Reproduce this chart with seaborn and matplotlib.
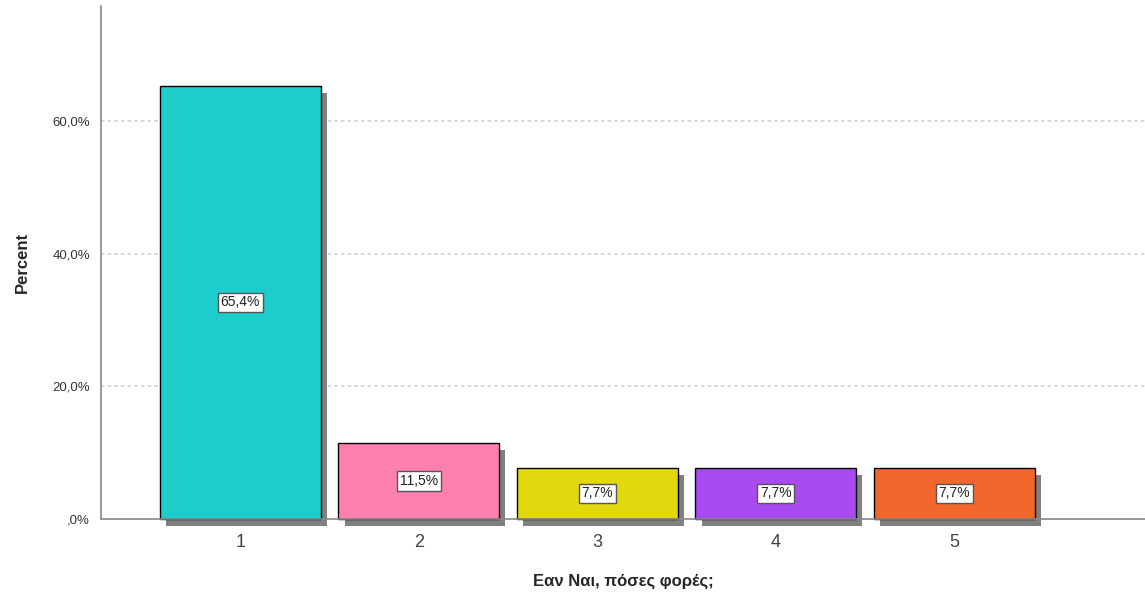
import matplotlib
matplotlib.use('Agg')
import matplotlib.pyplot as plt
import matplotlib.patheffects as pe
import seaborn as sns
import pandas as pd

# Data
categories = ['1', '2', '3', '4', '5']
percents = [65.4, 11.5, 7.7, 7.7, 7.7]
bar_colors = ['#1CCDCC', '#FF80B0', '#E2D80E', '#A94AF0', '#F2672C']
y_ticks = [0, 20, 40, 60]

df = pd.DataFrame({'times': categories, 'percent': percents})

sns.set_style('white')
plt.rcParams['font.family'] = ['Liberation Sans', 'DejaVu Sans']

fig = plt.figure(figsize=(11.45, 5.93), dpi=100)
ax = fig.add_axes([0.0882, 0.1248, 0.912, 0.865])

sns.barplot(data=df, x='times', y='percent', hue='times', palette=bar_colors,
            saturation=1, legend=False, width=0.9, edgecolor='black',
            linewidth=1.0, ax=ax)

# Drop shadow under every bar, as in the SPSS output
for patch in ax.patches:
    patch.set_clip_on(False)
    patch.set_path_effects([
        pe.SimplePatchShadow(offset=(4.5, -5), shadow_rgbFace='#808080', alpha=1.0),
        pe.Normal(),
    ])

# Value labels in white boxes at bar mid-height
for i, v in enumerate(percents):
    ax.text(i, v / 2, f'{v:.1f}%'.replace('.', ','), ha='center', va='center',
            fontsize=10, color='#222222', zorder=5,
            bbox=dict(boxstyle='square,pad=0.2', fc='white', ec='#555555', lw=1.0))

ax.set_xlim(-0.78, 5.07)
ax.set_ylim(0, 77.4)
ax.set_yticks(y_ticks)
ax.set_yticklabels([',0%' if t == 0 else f'{t:.1f}%'.replace('.', ',') for t in y_ticks],
                   fontsize=9.5, color='#333333')
ax.tick_params(axis='x', labelsize=13, labelcolor='#444444', length=0, pad=11)
ax.tick_params(axis='y', length=0, pad=8)

for t in y_ticks[1:]:
    ax.axhline(t, color='#cfcfcf', linestyle=(0, (2, 2)), linewidth=1.2, zorder=0)

for side in ['top', 'right']:
    ax.spines[side].set_visible(False)
for side in ['left', 'bottom']:
    ax.spines[side].set_color('#888888')
    ax.spines[side].set_linewidth(1.2)

ax.set_xlabel('Εαν Ναι, πόσες φορές;', fontsize=12, fontweight='bold', labelpad=16)
ax.set_ylabel('Percent', fontsize=12, fontweight='bold', labelpad=16)

fig.savefig('out.png', dpi=100)
